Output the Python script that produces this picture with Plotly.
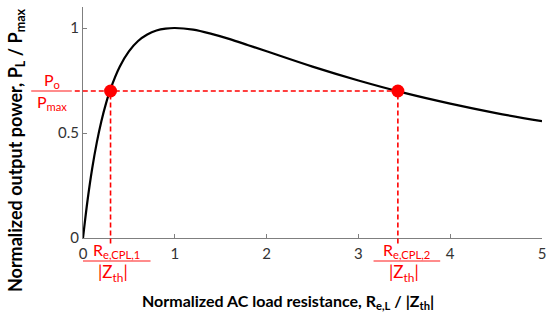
import plotly.graph_objects as go

# Normalized AC load resistance R/|Zth| and normalized power P/Pmax
r_norm = [0, 0.05, 0.1, 0.15, 0.2, 0.25, 0.3, 0.4, 0.5, 0.6, 0.7, 0.8, 0.9, 1.0,
          1.2, 1.4, 1.6, 1.8, 2.0, 2.5, 3.0, 3.5, 4.0, 4.5, 5.0]
p_norm = [0, 0.181, 0.331, 0.454, 0.556, 0.640, 0.710, 0.816, 0.889, 0.938, 0.969, 0.988, 0.997, 1.0,
          0.992, 0.972, 0.947, 0.918, 0.889, 0.816, 0.750, 0.691, 0.640, 0.595, 0.556]

# Operating points (constant power load)
op_r = [0.30, 3.43]
op_p = [0.70, 0.70]

x_ticks = [0, 1, 2, 3, 4, 5]
x_ticklabels = ["0", "1", "2", "3", "4", "5"]
y_ticks = [0, 0.5, 1]
y_ticklabels = ["0", "0.5", "1"]

X_RANGE = [0, 5]
Y_RANGE = [0, 1.1]

W, H = 548, 328
ML, MR, MT, MB = 83.3, 1.2, 7, 89.5
PW, PH = W - ML - MR, H - MT - MB

def px2paper_x(px):
    return (px - ML) / PW

def px2paper_y(py):
    return (H - MB - py) / PH

def data2paper_y(v):
    return (v - Y_RANGE[0]) / (Y_RANGE[1] - Y_RANGE[0])

RED = "#ff0000"
PINK = "rgba(255,0,0,0.45)"
FONT = "Lato"

fig = go.Figure()
fig.add_trace(go.Scatter(x=r_norm, y=p_norm, mode="lines", line=dict(color="black", width=2.2, shape="spline"),
                         showlegend=False, hoverinfo="skip"))

shapes = []
# horizontal dashed line from left of y-axis to second operating point
shapes.append(dict(type="line", xref="paper", yref="y",
                   x0=px2paper_x(75), x1=(op_r[1] - X_RANGE[0]) / (X_RANGE[1] - X_RANGE[0]),
                   y0=op_p[0], y1=op_p[0], line=dict(color=RED, width=1.6, dash="5px,3px")))
# vertical dashed lines
for rx, py in zip(op_r, op_p):
    shapes.append(dict(type="line", xref="x", yref="paper",
                       x0=rx, x1=rx, y0=px2paper_y(244), y1=data2paper_y(py),
                       line=dict(color=RED, width=1.6, dash="5px,3px")))
# fraction bars
shapes.append(dict(type="line", xref="paper", yref="paper", x0=px2paper_x(31), x1=px2paper_x(72),
                   y0=data2paper_y(op_p[0]), y1=data2paper_y(op_p[0]), line=dict(color=PINK, width=2)))
shapes.append(dict(type="line", xref="paper", yref="paper", x0=px2paper_x(83.3), x1=px2paper_x(151.5),
                   y0=px2paper_y(261.5), y1=px2paper_y(261.5), line=dict(color=PINK, width=2)))
shapes.append(dict(type="line", xref="paper", yref="paper", x0=px2paper_x(376.7), x1=px2paper_x(444),
                   y0=px2paper_y(261.5), y1=px2paper_y(261.5), line=dict(color=PINK, width=2)))

fig.add_trace(go.Scatter(x=op_r, y=op_p, mode="markers", marker=dict(color=RED, size=13),
                         showlegend=False, hoverinfo="skip", cliponaxis=False))

annotations = []
def ann(text, px, py, size, color=RED, angle=0):
    annotations.append(dict(text=text, xref="paper", yref="paper", x=px2paper_x(px), y=px2paper_y(py),
                            showarrow=False, xanchor="center", yanchor="middle", textangle=angle,
                            font=dict(family=FONT, size=size, color=color)))

ann("P<sub>o</sub>", 52, 81, 16)
ann("P<sub>max</sub>", 52, 103, 16)
ann("R<sub>e,CPL,1</sub>", 117, 251, 16)
ann("|Z<sub>th</sub>|", 114, 274, 17)
ann("R<sub>e,CPL,2</sub>", 410, 251, 16)
ann("|Z<sub>th</sub>|", 407, 274, 17)
ann("<b>Normalized AC load resistance, R<sub>e,L</sub> / |Z<sub>th</sub>|</b>", 290, 302, 16, color="black")
ann("<b>Normalized output power, P<sub>L</sub> / P<sub>max</sub></b>", 16, 150, 18, color="black", angle=-90)

axis_common = dict(showgrid=False, zeroline=False, showline=True, linecolor="#7f7f7f", linewidth=1,
                   ticks="inside", ticklen=4, tickcolor="#7f7f7f", tickwidth=1,
                   tickfont=dict(family=FONT, size=15, color="#333333"), mirror=False,
                   ticklabeloverflow="allow")

fig.update_layout(
    width=W, height=H, margin=dict(l=ML, r=MR, t=MT, b=MB, pad=0),
    paper_bgcolor="white", plot_bgcolor="white",
    xaxis=dict(range=X_RANGE, tickvals=x_ticks, ticktext=x_ticklabels, ticklabelstandoff=2, **axis_common),
    yaxis=dict(range=Y_RANGE, tickvals=y_ticks, ticktext=y_ticklabels, **axis_common),
    shapes=shapes, annotations=annotations,
)

fig.write_html("out.html")
